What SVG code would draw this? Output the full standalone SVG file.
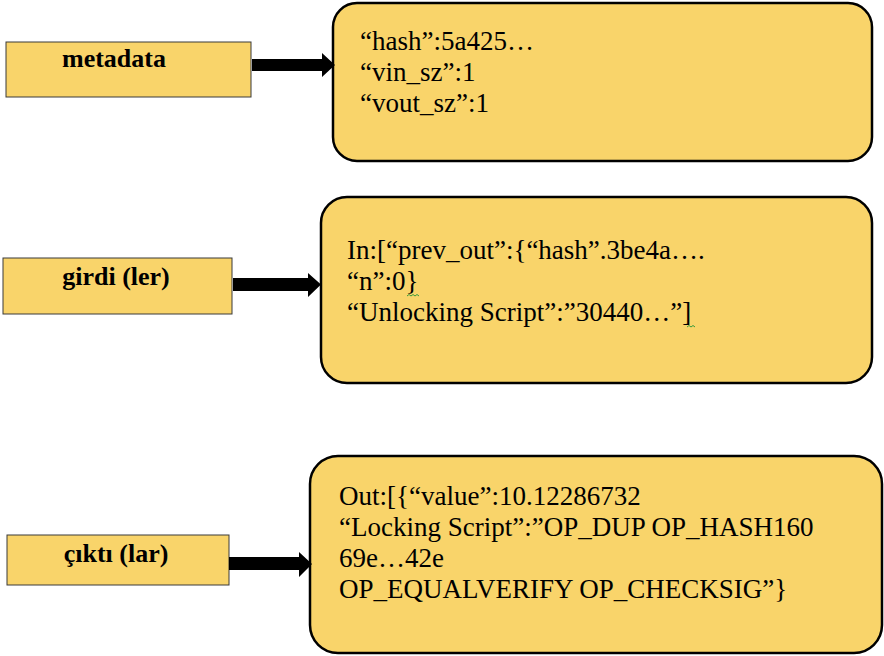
<svg xmlns="http://www.w3.org/2000/svg" width="884" height="656" viewBox="0 0 884 656">
  <defs>
    <style>
      .lbl { fill: #F9D46A; stroke: #3a3a3a; stroke-width: 1; }
      .box { fill: #F9D46A; stroke: #000; stroke-width: 2.5; }
      .lt { font-family: "Liberation Serif", "Times New Roman", serif; font-weight: bold; font-size: 26px; fill: #000; text-anchor: middle; }
      .bt { font-family: "Liberation Serif", "Times New Roman", serif; font-size: 27px; fill: #000; }
      .arr { fill: #000; }
      .sq { fill: none; stroke: #3a9a3a; stroke-width: 1; }
    </style>
  </defs>

  <rect width="884" height="656" fill="#fff"/>

  <!-- left-hand labels -->
  <g id="metadata">
    <rect class="lbl" x="6" y="42" width="245" height="55"/>
    <text class="lt" x="114" y="67">metadata</text>
  </g>
  <g id="girdi">
    <rect class="lbl" x="3" y="258" width="229" height="56"/>
    <text class="lt" x="116" y="285">girdi (ler)</text>
  </g>
  <g id="cikti">
    <rect class="lbl" x="7" y="535" width="222" height="50"/>
    <text class="lt" x="116" y="562">çıktı (lar)</text>
  </g>

  <!-- right-hand detail boxes -->
  <g id="metadata-detail">
    <rect class="box" x="333" y="3" width="539" height="158" rx="24" ry="24"/>
    <text class="bt" x="360" y="50">“hash”:5a425…</text>
    <text class="bt" x="360" y="81">“vin_sz”:1</text>
    <text class="bt" x="360" y="112">“vout_sz”:1</text>
  </g>
  <g id="girdi-detail">
    <rect class="box" x="321" y="197" width="551" height="186" rx="26" ry="26"/>
    <text class="bt" x="347" y="259">In:[“prev_out”:{“hash”.3be4a….</text>
    <text class="bt" x="347" y="290">“n”:0}</text>
    <text class="bt" x="347" y="321">“Unlocking Script”:”30440…”]</text>
    <path class="sq" d="M407 296 l2 -1.5 l2 1.5 l2 -1.5 l2 1.5 l2 -1.5 l2 1.5"/>
    <path class="sq" d="M687 327 l2 -1.5 l2 1.5 l2 -1.5 l2 1.5"/>
  </g>
  <g id="cikti-detail">
    <rect class="box" x="310" y="456" width="572" height="197" rx="28" ry="28"/>
    <text class="bt" x="339" y="505">Out:[{“value”:10.12286732</text>
    <text class="bt" x="339" y="536">“Locking Script”:”OP_DUP OP_HASH160</text>
    <text class="bt" x="339" y="567">69e…42e</text>
    <text class="bt" x="339" y="598">OP_EQUALVERIFY OP_CHECKSIG”}</text>
  </g>

  <!-- block arrows -->
  <g id="connectors">
    <polygon class="arr" points="252,59 322,59 322,53 335,65 322,77 322,71 252,71"/>
    <polygon class="arr" points="233,278 308,278 308,273 321,284.5 308,297 308,291 233,291"/>
    <polygon class="arr" points="229,557 299,557 299,552 312,564 299,577 299,570 229,570"/>
  </g>
</svg>
